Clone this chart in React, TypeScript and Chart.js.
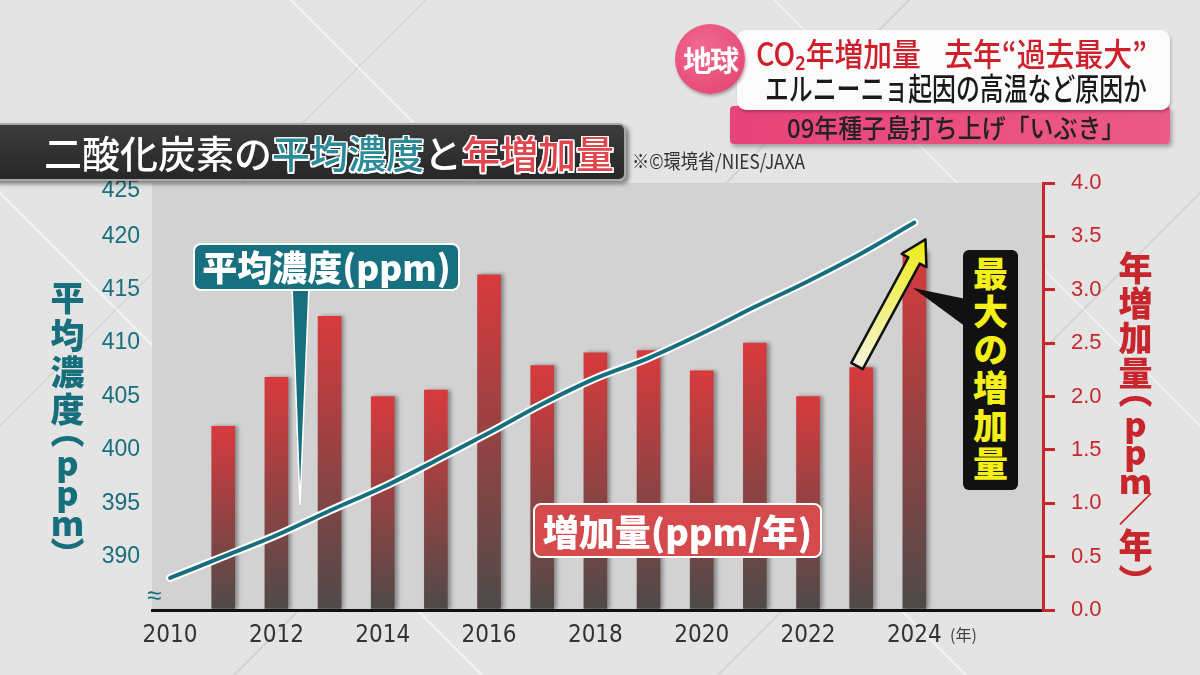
import React, { useEffect, useRef } from "react";
import { Chart, registerables } from "chart.js";

Chart.register(...registerables);

// ---- data ----
const years = [2010, 2011, 2012, 2013, 2014, 2015, 2016, 2017, 2018, 2019, 2020, 2021, 2022, 2023, 2024];
const avgConcentration = [388.0, 390.0, 392.0, 394.3, 396.5, 399.0, 401.6, 404.3, 406.7, 408.6, 410.9, 413.4, 415.8, 418.4, 421.3];
const increaseYears = [2011, 2012, 2013, 2014, 2015, 2016, 2017, 2018, 2019, 2020, 2021, 2022, 2023, 2024];
const annualIncrease = [1.72, 2.18, 2.75, 2.0, 2.06, 3.14, 2.29, 2.41, 2.43, 2.24, 2.5, 2.0, 2.27, 3.36];
const xTickYears = [2010, 2012, 2014, 2016, 2018, 2020, 2022, 2024];
const leftTickValues = [385, 390, 395, 400, 405, 410, 415, 420, 425];
const rightTickValues = [0, 0.5, 1, 1.5, 2, 2.5, 3, 3.5, 4];

const TEAL = "#176f7e";
const RED = "#c8262d";
const JP = "'Noto Sans CJK JP', 'Noto Sans', sans-serif";
const outline =
  "1.5px 1.5px 0 #fff, -1.5px -1.5px 0 #fff, 1.5px -1.5px 0 #fff, -1.5px 1.5px 0 #fff, 0 1.5px 0 #fff, 0 -1.5px 0 #fff, 1.5px 0 0 #fff, -1.5px 0 0 #fff";

function VText(props: { parts: [string, number][]; style: any }) {
  return (
    <div
      style={{
        position: "absolute",
        writingMode: "vertical-rl",
        textOrientation: "upright",
        lineHeight: 1,
        whiteSpace: "nowrap",
        ...props.style,
      }}
    >
      {props.parts.map(([t, ls], i) => (
        <span key={i} style={{ letterSpacing: ls }}>
          {t}
        </span>
      ))}
    </div>
  );
}

export default function App() {
  const ref = useRef<HTMLCanvasElement>(null);

  useEffect(() => {
    const canvas = ref.current;
    if (!canvas) return;

    const plotBg = {
      id: "plotBg",
      beforeDraw(chart: any) {
        const { ctx, chartArea: a } = chart;
        if (!a) return;
        ctx.save();
        ctx.fillStyle = "#d2d2d2";
        ctx.fillRect(a.left, a.top, a.right - a.left, a.bottom - a.top);
        ctx.restore();
      },
    };
    const barShadow = {
      id: "barShadow",
      beforeDatasetDraw(chart: any, args: any) {
        if (args.index !== 2) return;
        const c = chart.ctx;
        c.save();
        c.shadowColor = "rgba(0,0,0,0.35)";
        c.shadowBlur = 4;
        c.shadowOffsetX = 3;
      },
      afterDatasetDraw(chart: any, args: any) {
        if (args.index !== 2) return;
        chart.ctx.restore();
      },
    };

    const linePts = years.map((y, i) => ({ x: y, y: avgConcentration[i] }));
    const barPts = increaseYears.map((y, i) => ({ x: y, y: annualIncrease[i] }));

    const barGradient = (c: any) => {
      const chart = c.chart;
      const s = chart.scales && chart.scales.yR;
      if (!chart.chartArea || !s || c.type !== "data") return "#b84444";
      const v = c.parsed ? c.parsed.y : c.raw.y;
      const top = s.getPixelForValue(v);
      const bot = s.getPixelForValue(0);
      if (!isFinite(top) || !isFinite(bot)) return "#b84444";
      const g = chart.ctx.createLinearGradient(0, top, 0, bot);
      g.addColorStop(0, "#d83a3d");
      g.addColorStop(0.55, "#8c4343");
      g.addColorStop(1, "#4e4a4a");
      return g;
    };

    const fontNarrow = "'Liberation Sans Narrow', 'DejaVu Sans Condensed', 'Liberation Sans', sans-serif";
    const fontSans = "'Liberation Sans', Arial, sans-serif";

    const chart = new Chart(canvas, {
      type: "bar",
      data: {
        datasets: [
          {
            type: "line",
            label: "平均濃度(ppm)",
            data: linePts,
            yAxisID: "yL",
            borderColor: TEAL,
            borderWidth: 4,
            pointRadius: 0,
            cubicInterpolationMode: "monotone",
            borderCapStyle: "round",
            order: 0,
          } as any,
          {
            type: "line",
            label: "outline",
            data: linePts,
            yAxisID: "yL",
            borderColor: "#ffffff",
            borderWidth: 8,
            pointRadius: 0,
            cubicInterpolationMode: "monotone",
            borderCapStyle: "round",
            order: 1,
          } as any,
          {
            type: "bar",
            label: "増加量(ppm/年)",
            data: barPts,
            yAxisID: "yR",
            barThickness: 23,
            backgroundColor: barGradient,
            borderWidth: 0,
            order: 2,
          } as any,
        ],
      },
      options: {
        animation: false,
        responsive: false,
        layout: { padding: { top: 183, left: 0, right: 0, bottom: 0 } },
        plugins: { legend: { display: false }, tooltip: { enabled: false } },
        scales: {
          x: {
            type: "linear",
            min: 2009.66,
            max: 2026.42,
            offset: false,
            afterBuildTicks: (s: any) => {
              s.ticks = xTickYears.map((v) => ({ value: v }));
            },
            afterFit: (s: any) => {
              s.height = 65;
            },
            grid: { display: false, drawTicks: false },
            border: { display: true, color: "#111", width: 3 },
            ticks: {
              color: "#333",
              font: { family: fontNarrow, size: 24 },
              padding: 11,
              maxRotation: 0,
              autoSkip: false,
              callback: (v: any) => String(v),
            },
          },
          yL: {
            type: "linear",
            position: "left",
            min: 385,
            max: 425,
            afterBuildTicks: (s: any) => {
              s.ticks = leftTickValues.map((v) => ({ value: v }));
            },
            afterFit: (s: any) => {
              s.width = 152;
            },
            grid: { display: false, drawTicks: false },
            border: { display: false },
            ticks: {
              color: TEAL,
              font: { family: fontSans, size: 23, lineHeight: 0.7 },
              padding: 12,
              callback: (v: any) => (v === 385 ? "" : v === 425 ? ["", "425"] : String(v)),
            },
          },
          yR: {
            type: "linear",
            position: "right",
            min: 0,
            max: 4,
            afterBuildTicks: (s: any) => {
              s.ticks = rightTickValues.map((v) => ({ value: v }));
            },
            afterFit: (s: any) => {
              s.width = 157;
            },
            grid: {
              display: true,
              drawOnChartArea: false,
              drawTicks: true,
              tickLength: 12,
              color: RED,
              lineWidth: 3,
            },
            border: { display: true, color: RED, width: 3 },
            ticks: {
              color: RED,
              font: { family: fontSans, size: 22 },
              padding: 16,
              callback: (v: any) => Number(v).toFixed(1),
            },
          },
        },
      } as any,
      plugins: [plotBg, barShadow],
    });

    return () => chart.destroy();
  }, []);

  const bg =
    "repeating-linear-gradient(45deg, rgba(255,255,255,0) 0px, rgba(255,255,255,0) 340px, rgba(255,255,255,0.55) 340px, rgba(255,255,255,0.55) 342px), " +
    "repeating-linear-gradient(-45deg, rgba(255,255,255,0) 0px, rgba(255,255,255,0) 340px, rgba(200,200,200,0.55) 340px, rgba(200,200,200,0.55) 342px), #e4e4e4";

  return (
    <div
      style={{
        position: "fixed",
        left: 0,
        top: 0,
        width: 1200,
        height: 675,
        overflow: "hidden",
        background: bg,
        fontFamily: JP,
      }}
    >
      <canvas ref={ref} width={1200} height={675} style={{ position: "absolute", left: 0, top: 0 }} />

      {/* title bar */}
      <div
        style={{
          position: "absolute",
          left: -10,
          top: 123,
          width: 636,
          height: 58,
          boxSizing: "border-box",
          background: "linear-gradient(#3c3c3c, #272727)",
          border: "2px solid #a8a8a8",
          borderRadius: 7,
          boxShadow: "3px 3px 4px rgba(0,0,0,0.45)",
        }}
      />
      <div
        style={{
          position: "absolute",
          left: 44,
          top: 124,
          height: 56,
          lineHeight: "56px",
          fontSize: 38,
          fontWeight: 500,
          color: "#fff",
          whiteSpace: "nowrap",
        }}
      >
        二酸化炭素の<span style={{ color: "#2a8a98", textShadow: outline }}>平均濃度</span>と
        <span style={{ color: "#e2454b", textShadow: outline }}>年増加量</span>
      </div>
      <div
        style={{
          position: "absolute",
          left: 632,
          top: 148,
          fontSize: 20,
          lineHeight: "26px",
          color: "#333",
          whiteSpace: "nowrap",
          transform: "scaleX(0.86)",
          transformOrigin: "left center",
        }}
      >
        ※©環境省/NIES/JAXA
      </div>

      {/* header, top right */}
      <div
        style={{
          position: "absolute",
          left: 730,
          top: 106,
          width: 440,
          height: 38,
          background: "linear-gradient(90deg, #e8437a, #ec5a86)",
          borderRadius: 4,
          boxShadow: "2px 3px 4px rgba(0,0,0,0.3)",
        }}
      />
      <div
        style={{
          position: "absolute",
          left: 737,
          top: 30,
          width: 433,
          height: 80,
          background: "#fbfbfb",
          borderRadius: 9,
          boxShadow: "1px 2px 3px rgba(0,0,0,0.25)",
        }}
      />
      <div
        style={{
          position: "absolute",
          left: 675,
          top: 24,
          width: 70,
          height: 70,
          borderRadius: "50%",
          background: "radial-gradient(circle at 40% 35%, #f06a90, #e2406f)",
          boxShadow: "1px 2px 3px rgba(0,0,0,0.3)",
          color: "#fff",
          fontSize: 29,
          fontWeight: 700,
          lineHeight: "70px",
          textAlign: "center",
          letterSpacing: -2,
        }}
      >
        地球
      </div>
      <div
        style={{
          position: "absolute",
          left: 756,
          top: 33,
          fontSize: 32,
          lineHeight: "38px",
          fontWeight: 500,
          color: "#cf1f2b",
          whiteSpace: "nowrap",
          transform: "scaleX(0.9)",
          transformOrigin: "left center",
        }}
      >
        CO₂年増加量<span style={{ letterSpacing: -6 }}>　</span>去年“過去最大”
      </div>
      <div
        style={{
          position: "absolute",
          left: 765,
          top: 68,
          fontSize: 31,
          lineHeight: "38px",
          fontWeight: 500,
          color: "#1a1a1a",
          whiteSpace: "nowrap",
          transform: "scaleX(0.77)",
          transformOrigin: "left center",
        }}
      >
        エルニーニョ起因の高温など原因か
      </div>
      <div
        style={{
          position: "absolute",
          left: 787,
          top: 110,
          fontSize: 26,
          lineHeight: "34px",
          fontWeight: 500,
          color: "#222",
          whiteSpace: "nowrap",
          transform: "scaleX(0.92)",
          transformOrigin: "left center",
        }}
      >
        09年種子島打ち上げ「いぶき」
      </div>

      {/* vertical axis titles */}
      <VText
        style={{ left: 50, top: 281, fontSize: 34, fontWeight: 900, color: TEAL }}
        parts={[
          ["平均濃", 3],
          ["度", -12],
          ["（", -2],
          ["pp", -4],
          ["m", -3],
          ["）", 0],
        ]}
      />
      <VText
        style={{ left: 1118, top: 251, fontSize: 34, fontWeight: 900, color: RED }}
        parts={[
          ["年増加", 1],
          ["量", -16],
          ["（", -1],
          ["p", -6],
          ["p", -5],
          ["m", -6],
          ["／", 2],
          ["年", 2],
          ["）", 0],
        ]}
      />

      {/* annotation shapes */}
      <svg width={1200} height={675} style={{ position: "absolute", left: 0, top: 0 }}>
        <defs>
          <linearGradient id="arrowGrad" x1="0" y1="0" x2="1" y2="0">
            <stop offset="0" stopColor="#f7f4dc" />
            <stop offset="1" stopColor="#eeec12" />
          </linearGradient>
        </defs>
        <polygon points="292,286 309,286 300,505" fill={TEAL} stroke="#fff" strokeWidth={1.5} />
        <polygon points="913,288 966,299 966,327" fill="#111" />
        <g transform="translate(857,366) rotate(-61.6)">
          <polygon
            points="0,-6.5 120,-6.5 120,-14 144,0 120,14 120,6.5 0,6.5"
            fill="url(#arrowGrad)"
            stroke="#111"
            strokeWidth={2.5}
            strokeLinejoin="round"
          />
        </g>
      </svg>

      {/* callout boxes */}
      <div
        style={{
          position: "absolute",
          left: 193,
          top: 243,
          width: 267,
          height: 48,
          boxSizing: "border-box",
          background: "#17707f",
          border: "2px solid #fff",
          borderRadius: 8,
          color: "#fff",
          fontSize: 35,
          fontWeight: 900,
          lineHeight: "42px",
          textAlign: "center",
          whiteSpace: "nowrap",
        }}
      >
        平均濃度(ppm)
      </div>
      <div
        style={{
          position: "absolute",
          left: 533,
          top: 503,
          width: 289,
          height: 55,
          boxSizing: "border-box",
          background: "#d44a4d",
          border: "2px solid #fff",
          borderRadius: 8,
          color: "#fff",
          fontSize: 36,
          fontWeight: 900,
          lineHeight: "50px",
          textAlign: "center",
          whiteSpace: "nowrap",
        }}
      >
        増加量(ppm/年)
      </div>
      <div
        style={{
          position: "absolute",
          left: 963,
          top: 250,
          width: 55,
          height: 240,
          background: "#111",
          borderRadius: 6,
          display: "flex",
          justifyContent: "center",
          alignItems: "center",
        }}
      >
        <div
          style={{
            writingMode: "vertical-rl",
            textOrientation: "upright",
            fontSize: 35,
            fontWeight: 900,
            lineHeight: 1,
            letterSpacing: 3,
            color: "#f4ef18",
            whiteSpace: "nowrap",
          }}
        >
          最大の増加量
        </div>
      </div>

      {/* small marks */}
      <div
        style={{
          position: "absolute",
          left: 147,
          top: 582,
          fontSize: 26,
          lineHeight: "26px",
          color: TEAL,
          fontFamily: "'Liberation Sans', sans-serif",
        }}
      >
        ≈
      </div>
      <div
        style={{
          position: "absolute",
          left: 950,
          top: 624,
          fontSize: 16,
          lineHeight: "20px",
          color: "#444",
          whiteSpace: "nowrap",
        }}
      >
        (年)
      </div>
    </div>
  );
}
